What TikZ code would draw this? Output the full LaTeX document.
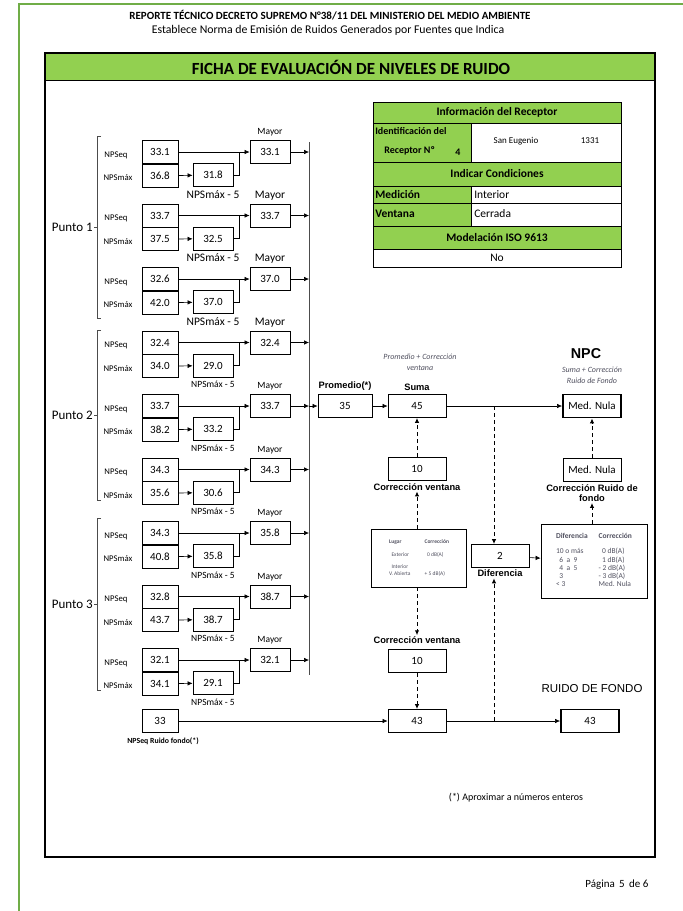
\documentclass[tikz,border=0pt]{standalone}
\usepackage{fontspec}
\setmainfont{Carlito}
\newfontfamily\arialfont{Liberation Sans}
\usetikzlibrary{arrows.meta,positioning,calc}

\definecolor{excelgreen}{RGB}{146,208,80}
\definecolor{pagegreen}{RGB}{112,173,71}
\definecolor{notegray}{RGB}{80,80,95}

\tikzset{
  valbox/.style={draw, line width=0.8pt, minimum width=36pt, minimum height=23pt,
    inner sep=0pt, font=\fontsize{11}{13}\selectfont},
  outbox/.style={valbox, line width=1.8pt, minimum width=58pt},
  sidelbl/.style={font=\fontsize{8.7}{9}\selectfont, inner sep=1pt},
  steplbl/.style={font=\arialfont\bfseries\fontsize{9.3}{10.5}\selectfont, inner sep=1pt, align=center},
  italnote/.style={font=\itshape\fontsize{8}{11}\selectfont, text=notegray, align=center},
  dashflow/.style={->, line width=1pt, dash pattern=on 4pt off 3pt},
  cellbold/.style={font=\bfseries\fontsize{11.5}{12}\selectfont, inner sep=2pt},
  cellplain/.style={font=\fontsize{11.5}{12}\selectfont, inner sep=2pt},
  minitab/.style={draw, line width=0.8pt, inner sep=2pt, text=notegray},
}

\begin{document}
\begin{tikzpicture}[x=1pt, y=-1pt, >={Latex[length=5pt,width=4.5pt]}, line width=0.6pt]
  \useasboundingbox (0,0) rectangle (683,911);

  % page border and header
  \draw[pagegreen, line width=1.5pt] (19,911) -- (19,4) -- (683,4);
  \node[font=\bfseries\fontsize{11}{13}\selectfont] (hdr) at (330,15)
    {REPORTE TÉCNICO DECRETO SUPREMO N°38/11 DEL MINISTERIO DEL MEDIO AMBIENTE};
  \node[font=\fontsize{11.8}{13}\selectfont] (subhdr) at (328,30)
    {Establece Norma de Emisión de Ruidos Generados por Fuentes que Indica};

  % frame
  \fill[excelgreen] (45,53) rectangle (655,80);
  \draw (45,80) -- (655,80);
  \draw[line width=1.6pt] (45,53) rectangle (655,857);
  \node[font=\bfseries\fontsize{17}{19}\selectfont] (ficha) at (351,67)
    {FICHA DE EVALUACIÓN DE NIVELES DE RUIDO};

  % receptor table
  \fill[excelgreen] (373,102) rectangle (621,123);
  \fill[excelgreen] (373,123) rectangle (471,162);
  \fill[excelgreen] (373,162) rectangle (621,186);
  \fill[excelgreen] (373,186) rectangle (471,226);
  \fill[excelgreen] (373,226) rectangle (621,249);
  \draw (373,102) rectangle (621,267);
  \foreach \yy in {123,162,186,203,226,249}
    \draw (373,\yy) -- (621,\yy);
  \draw (471,123) -- (471,162);
  \draw (471,186) -- (471,226);
  \node[cellbold] (inforec) at (497,112) {Información del Receptor};
  \node[cellbold, font=\bfseries\fontsize{10}{11}\selectfont, anchor=west] (ident) at (373,131) {Identificación del};
  \node[cellbold, font=\bfseries\fontsize{10}{11}\selectfont, anchor=west] (recno) at (382,151) {Receptor Nº};
  \node[cellbold, font=\bfseries\fontsize{10}{11}\selectfont] (recnum) at (458,152) {4};
  \node[cellplain, font=\fontsize{9}{10}\selectfont] (calle) at (516,141) {San Eugenio};
  \node[cellplain, font=\fontsize{9}{10}\selectfont] (nrocalle) at (590,141) {1331};
  \node[cellbold] (condic) at (497,174) {Indicar Condiciones};
  \node[cellbold, anchor=west] (medic) at (373,195) {Medición};
  \node[cellplain, anchor=west] (interior) at (472,195) {Interior};
  \node[cellbold, anchor=west] (ventana) at (373,214) {Ventana};
  \node[cellplain, anchor=west] (cerrada) at (472,214) {Cerrada};
  \node[cellbold] (iso) at (497,238) {Modelación ISO 9613};
  \node[cellplain] (isono) at (497,258) {No};

  % puntos
  \foreach \p/\top/\bot in {1/136/318, 2/330/500, 3/518/690}{
    \draw[gray!60!black] (101,\top) -- (97,\top) -- (97,\bot) -- (101,\bot);
    \draw[gray!60!black] (97,{(\top+\bot)/2}) -- ++(-3,0);
    \node[font=\fontsize{13}{14}\selectfont, anchor=east, inner sep=1pt] (punto\p)
      at (94,{(\top+\bot)/2}) {Punto \p};
  }

  \coordinate (bartop) at (309,142);
  \coordinate (barbot) at (309,675);
  \draw[line width=0.8pt, gray!60!black] (bartop) -- (barbot);

  \foreach \i/\seq/\mx/\red/\may in {1/33.1/36.8/31.8/33.1, 2/33.7/37.5/32.5/33.7,
      3/32.6/42.0/37.0/37.0, 4/32.4/34.0/29.0/32.4, 5/33.7/38.2/33.2/33.7,
      6/34.3/35.6/30.6/34.3, 7/34.3/40.8/35.8/35.8, 8/32.8/43.7/38.7/38.7,
      9/32.1/34.1/29.1/32.1}{
    \pgfmathsetmacro\y{152+(\i-1)*63.5}
    \pgfmathsetmacro\fm{(\i>1 && \i<5) ? 11.5 : 9.5}
    \pgfmathsetmacro\fr{(\i<4) ? 11.5 : 9.5}
    \node[valbox] (seq\i) at (160,\y) {\seq};
    \node[valbox, below=0pt of seq\i] (max\i) {\mx};
    \node[valbox, minimum width=40pt] (red\i) at (213,\y+23) {\red};
    \node[valbox, minimum width=40pt] (may\i) at (270,\y) {\may};
    \node[sidelbl] (lseq\i) at (116,\y+3) {NPSeq};
    \node[sidelbl] (lmax\i) at (118,\y+26) {NPSmáx};
    \node[font=\fontsize{\fm}{\fm}\selectfont, above=0pt of may\i] (lmay\i) {Mayor};
    \node[font=\fontsize{\fr}{\fr}\selectfont, below=0pt of red\i] (lred\i) {NPSmáx - 5};
    \draw[->] (seq\i) -- (may\i);
    \draw[->] (max\i) -- (red\i);
    \draw (red\i.east) -- ++(6,0) coordinate (jn\i) -- (jn\i |- may\i.west);
    \draw[->] (may\i) -- (may\i -| bartop);
  }

  % promedio, suma, NPC
  \node[valbox, minimum width=54pt] (prom) at (345,406) {35};
  \node[steplbl, above=2pt of prom] (lprom) {Promedio(*)};
  \node[valbox, minimum width=58pt] (suma) at (417,406) {45};
  \node[steplbl, above=2pt of suma] (lsuma) {Suma};
  \node[italnote] (nsuma) at (420,362) {Promedio + Corrección\\ventana};
  \node[outbox] (npc) at (592,406) {Med. Nula};
  \node[font=\arialfont\bfseries\fontsize{14.3}{16}\selectfont] (lnpc) at (586,354) {NPC};
  \node[italnote] (nnpc) at (592,375) {Suma + Corrección\\Ruido de Fondo};
  \coordinate (barout) at (prom.west -| bartop);
  \draw[->] (barout) -- (prom);
  \draw[->] (prom) -- (suma);
  \draw[->] (suma) -- (npc);

  % correccion ventana
  \node[valbox, minimum width=58pt] (corv) at (417,469) {10};
  \node[steplbl, below=1pt of corv] (lcorv) {Corrección ventana};
  \node[minitab, minimum width=95pt, minimum height=58pt,
    font=\fontsize{5.5}{7}\selectfont] (lugar) at (419,558) {%
    \begin{tabular}{@{}l@{\hspace{14pt}}l@{}}
      \textbf{Lugar} & \textbf{Corrección}\\[6pt]
      \ \ Exterior & \ \ 0 dB(A)\\[5pt]
      \ \ Interior & \\
      V. Abierta & + 5 dB(A)
    \end{tabular}};
  \node[steplbl] (lcorv2) at (417,640) {Corrección ventana};
  \node[valbox, minimum width=58pt] (corv2) at (417,661) {10};
  \node[valbox, minimum width=58pt] (rf) at (417,721) {43};
  \draw[dashflow] (corv) -- (suma);
  \draw[dashflow] (lugar.north -| lcorv.south) -- (lcorv.south);
  \draw[dashflow] (lugar.south -| lcorv2.north) -- (lcorv2.north);
  \draw[dashflow] (corv2) -- (rf);

  % ruido de fondo
  \node[valbox] (npsrf) at (160,721) {33};
  \node[font=\bfseries\fontsize{7.8}{9}\selectfont, below=1pt of npsrf, xshift=3pt] (lnpsrf)
    {NPSeq Ruido fondo(*)};
  \draw[->] (npsrf) -- (rf);
  \node[outbox] (rfout) at (590,721) {43};
  \node[font=\arialfont\fontsize{11.5}{13}\selectfont] (lrfout) at (592,689) {RUIDO DE FONDO};
  \draw[->] (rf) -- (rfout);

  % diferencia
  \node[valbox, minimum width=58pt] (dif) at (500,556) {2};
  \node[steplbl, below=1pt of dif] (ldif) {Diferencia};
  \coordinate (jtop) at (494,406);
  \coordinate (jbot) at (494,721);
  \draw[dashflow] (jtop) -- (jtop |- dif.north);
  \draw[dashflow] (jbot) -- (jbot |- ldif.south);
  \node[minitab, minimum width=106pt, minimum height=74pt,
    font=\fontsize{7.5}{8.2}\selectfont] (tabla) at (594,561) {%
    \begin{tabular}{@{}l@{\hspace{11pt}}l@{}}
      \textbf{Diferencia} & \textbf{Corrección}\\[7pt]
      10 o más & \ \ 0 dB(A)\\
      \ \ 6 \ a \ 9 & \ \ 1 dB(A)\\
      \ \ 4 \ a \ 5 & - 2 dB(A)\\
      \ \ 3 & - 3 dB(A)\\
      < 3 & Med. Nula
    \end{tabular}};
  \draw[->] (dif) -- (tabla);

  % correccion ruido de fondo
  \node[valbox, minimum width=58pt] (crf) at (592,470) {Med. Nula};
  \node[steplbl, below=1pt of crf] (lcrf) {Corrección Ruido de\\fondo};
  \draw[dashflow] (tabla.north -| lcrf.south) -- (lcrf.south);
  \draw[dashflow] (crf) -- (npc);

  % notas
  \node[font=\fontsize{10}{11}\selectfont] (nota) at (516,798) {(*) Aproximar a números enteros};
  \node[font=\fontsize{11}{12}\selectfont, anchor=east] (pagina) at (652,885) {Página\, 5\, de 6};
\end{tikzpicture}
\end{document}
